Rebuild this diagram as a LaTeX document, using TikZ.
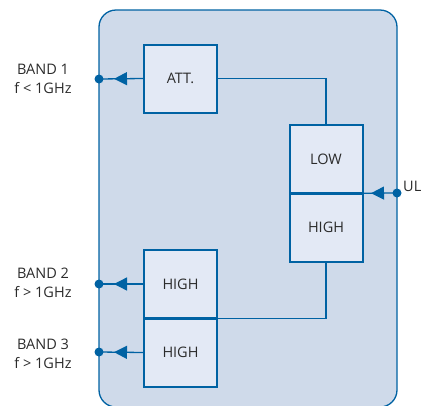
\documentclass[tikz,border=0pt]{standalone}
\usepackage{fontspec}
\setmainfont{Open Sans}
\usetikzlibrary{arrows.meta,decorations.markings,calc}
\definecolor{lineblue}{HTML}{0062A3}
\definecolor{panel}{HTML}{CFDAEA}
\definecolor{boxfill}{HTML}{E3E9F5}
\definecolor{txt}{HTML}{2B2B2B}
\begin{document}
\begin{tikzpicture}[x=1pt,y=-1pt,
  blk/.style={draw=lineblue,line width=2pt,fill=boxfill,minimum width=73pt,minimum height=68pt,inner sep=0pt,font=\fontsize{14.5}{16}\selectfont,text=txt},
  wire/.style={draw=lineblue,line width=1.3pt},
  dot/.style={circle,fill=lineblue,inner sep=0pt,minimum size=9pt},
  lbl/.style={font=\fontsize{14.5}{18.5}\selectfont,text=txt,align=center},
  tri/.style={postaction={decorate},decoration={markings,mark=at position #1 with {\arrow{Triangle[length=13pt,width=13pt]}}}}
]
\useasboundingbox (0,0) rectangle (421,405);
\begin{scope}
\clip (0,0) rectangle (421,405);
\draw[draw=lineblue,line width=1.3pt,fill=panel,rounded corners=17pt] (99,10) rectangle (397,407);
\end{scope}
\node[blk] (att) at (180.5,78.5) {ATT.};
\node[blk] (low) at (326,159) {LOW};
\node[blk] (hir) at (326,227.5) {HIGH};
\node[blk] (hb2) at (180.5,284) {HIGH};
\node[blk] (hb3) at (180.5,352.5) {HIGH};
\node[dot] (d1) at (99,79) {};
\node[dot] (d2) at (99,284) {};
\node[dot] (d3) at (99,352) {};
\node[dot] (dul) at (397,193) {};
\coordinate (mid) at ($(low.south east)!0.5!(hir.north east)$);
\coordinate (mid2) at ($(hb2.south east)!0.5!(hb3.north east)$);
\draw[wire,tri=29pt] (att.west) -- (d1.center);
\draw[wire,tri=29pt] (hb2.west) -- (d2.center);
\draw[wire,tri=29pt] (hb3.west) -- (d3.center);
\draw[wire,tri=26pt] (dul.center) -- (mid);
\draw[wire] (att.east) -| (low.north);
\draw[wire] (hir.south) |- (mid2);
\node[lbl,anchor=west,inner sep=1pt] (ul) at (402,186) {UL};
\node[lbl] (b1) at (43,79) {BAND 1\\f < 1GHz};
\node[lbl] (b2) at (43,283) {BAND 2\\f > 1GHz};
\node[lbl] (b3) at (43,354) {BAND 3\\f > 1GHz};
\end{tikzpicture}
\end{document}
